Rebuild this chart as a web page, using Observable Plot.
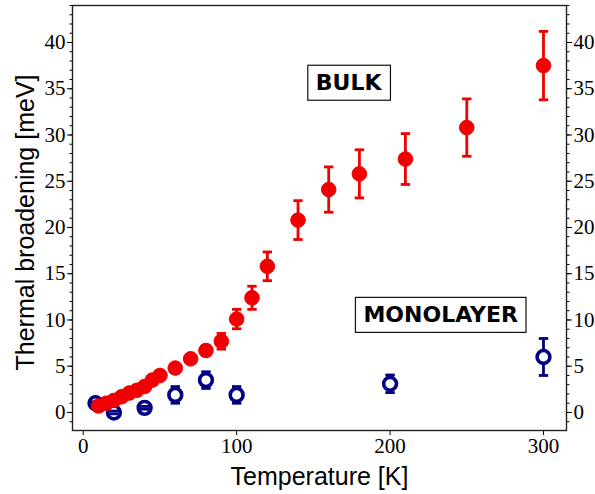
<!DOCTYPE html>
<html>
<head>
<meta charset="utf-8">
<script src="https://cdn.jsdelivr.net/npm/d3@7"></script>
<script src="https://cdn.jsdelivr.net/npm/@observablehq/plot@0.6"></script>
<style>
  html, body { margin: 0; padding: 0; background: white; }
</style>
</head>
<body>
<div id="chart"></div>
<script>
// Bulk (red, filled)
const bulkT   = [10, 15, 20, 25, 30, 35, 40, 45, 50, 60, 70, 80, 90, 100, 110, 120, 140, 160, 180, 210, 250, 300];
const bulkV   = [0.7, 1.0, 1.3, 1.7, 2.1, 2.4, 2.8, 3.5, 4.0, 4.8, 5.8, 6.7, 7.7, 10.1, 12.4, 15.8, 20.8, 24.1, 25.8, 27.4, 30.8, 37.5];
const bulkErr = [0.1, 0.1, 0.15, 0.15, 0.2, 0.2, 0.25, 0.3, 0.3, 0.35, 0.4, 0.5, 0.85, 1.05, 1.25, 1.55, 2.1, 2.45, 2.6, 2.75, 3.1, 3.7];

// Monolayer (navy, open)
const monoT   = [8, 20, 40, 60, 80, 100, 200, 300];
const monoV   = [1.0, 0.0, 0.5, 1.9, 3.5, 1.9, 3.1, 6.0];
const monoErr = [0.15, 0.15, 0.15, 0.9, 0.9, 0.9, 0.95, 2.0];

// Ticks
const xTicks = [0, 100, 200, 300];
const yTicks = [0, 5, 10, 15, 20, 25, 30, 35, 40];
const yMinor = d3.range(-1, 45);

// Annotations
const labelText = ["BULK", "MONOLAYER"];
const labelT = [173, 233];
const labelV = [35.6, 10.5];

const bulk = bulkT.map((T, i) => ({T, v: bulkV[i], e: bulkErr[i]}));
const mono = monoT.map((T, i) => ({T, v: monoV[i], e: monoErr[i]}));
const labels = labelText.map((text, i) => ({text, T: labelT[i], v: labelV[i]}));

const RED = "#f00000";
const NAVY = "#000080";

const cap = {
  draw(ctx, size) {
    const w = Math.sqrt(size / Math.PI);
    ctx.moveTo(-w, 0);
    ctx.lineTo(w, 0);
  }
};

function errMarks(data, color) {
  return [
    Plot.ruleX(data, {x: "T", y1: d => d.v - d.e, y2: d => d.v + d.e, stroke: color, strokeWidth: 2.8})
  ];
}
function capMarks(data, color) {
  return [
    Plot.dot(data, {x: "T", y: d => d.v + d.e, symbol: cap, r: 4.7, stroke: color, fill: "none", strokeWidth: 2.8}),
    Plot.dot(data, {x: "T", y: d => d.v - d.e, symbol: cap, r: 4.7, stroke: color, fill: "none", strokeWidth: 2.8})
  ];
}

const chart = Plot.plot({
  width: 595,
  height: 494,
  marginLeft: 72,
  marginRight: 29,
  marginTop: 5,
  marginBottom: 64,
  x: {domain: [-7, 315]},
  y: {domain: [-1.95, 44]},
  style: {fontFamily: "'Liberation Serif', serif", fontSize: "21px", color: "#000", background: "white"},
  marks: [
    Plot.axisX({ticks: xTicks, tickSize: 5, tickPadding: 3, label: null}),
    Plot.axisY({anchor: "left", ticks: yTicks, tickSize: 5, tickPadding: 2, label: null}),
    Plot.axisY({anchor: "right", ticks: yTicks, tickSize: 5, tickPadding: 2, label: null}),
    Plot.axisY({anchor: "left", ticks: yMinor, tickSize: 2.5, tickFormat: () => "", label: null}),
    Plot.axisY({anchor: "right", ticks: yMinor, tickSize: 2.5, tickFormat: () => "", label: null}),
    Plot.frame({stroke: "#222", strokeWidth: 1.4}),

    ...errMarks(mono, NAVY),
    Plot.dot(mono, {x: "T", y: "v", r: 6.4, stroke: NAVY, fill: "white", strokeWidth: 3.6}),
    ...capMarks(mono, NAVY),

    ...errMarks(bulk, RED),
    Plot.dot(bulk, {x: "T", y: "v", r: 7.3, fill: RED, stroke: RED, strokeWidth: 1}),
    ...capMarks(bulk, RED),

    Plot.text(labels, {x: "T", y: "v", text: "text", fontFamily: "'DejaVu Sans', sans-serif", fontWeight: "bold", fontSize: 22, fill: "#000", lineAnchor: "middle"}),

    Plot.text(["Temperature [K]"], {frameAnchor: "bottom", dy: 46, textAnchor: "middle", fontFamily: "'Liberation Sans', sans-serif", fontSize: 25, fill: "#000", lineAnchor: "middle"}),
    Plot.text(["Thermal broadening [meV]"], {frameAnchor: "left", dx: -47, dy: 4.5, rotate: -90, textAnchor: "middle", fontFamily: "'Liberation Sans', sans-serif", fontSize: 25, fill: "#000", lineAnchor: "middle"})
  ]
});

document.getElementById("chart").appendChild(chart);

// Boxes around the annotation labels
const ns = "http://www.w3.org/2000/svg";
chart.querySelectorAll("text").forEach(t => {
  if (!labelText.includes(t.textContent)) return;
  const b = t.getBBox();
  const padX = 8, padY = 5;
  const r = document.createElementNS(ns, "rect");
  r.setAttribute("x", b.x - padX);
  r.setAttribute("y", b.y - padY);
  r.setAttribute("width", b.width + 2 * padX);
  r.setAttribute("height", b.height + 2 * padY);
  r.setAttribute("fill", "white");
  r.setAttribute("stroke", "#111");
  r.setAttribute("stroke-width", "1.2");
  const tr = t.getAttribute("transform");
  if (tr) r.setAttribute("transform", tr);
  t.parentNode.insertBefore(r, t);
});
</script>
</body>
</html>
